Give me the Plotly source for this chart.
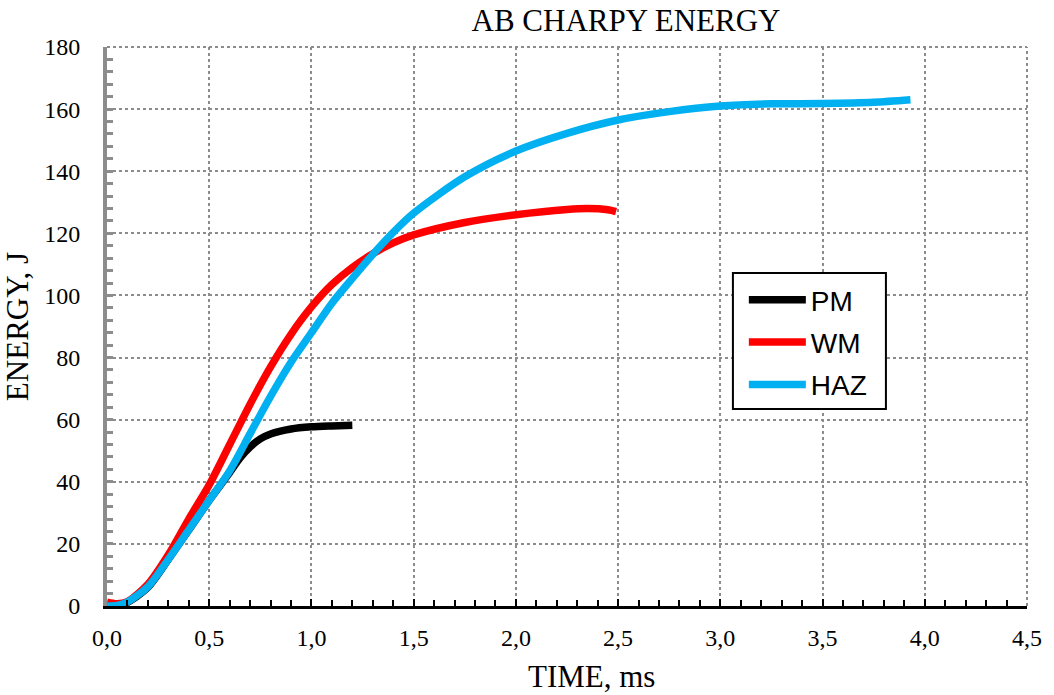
import plotly.graph_objects as go

# ---- data ----
pm_t = [0.0, 0.05, 0.1, 0.2, 0.3, 0.4, 0.5, 0.55, 0.6, 0.65, 0.7, 0.75, 0.8, 0.9, 1.0, 1.1, 1.2]
pm_e = [0.0, 0.2, 1.2, 6.0, 15.0, 24.5, 34.0, 38.5, 43.0, 47.6, 51.2, 53.8, 55.4, 57.0, 57.7, 58.0, 58.2]

wm_t = [0.0, 0.05, 0.1, 0.2, 0.3, 0.4, 0.5, 0.6, 0.7, 0.8, 0.9, 1.0, 1.1, 1.2, 1.3, 1.4, 1.5, 1.75, 2.0, 2.25, 2.35, 2.45, 2.49]
wm_e = [1.2, 0.7, 1.4, 7.0, 16.5, 28.0, 39.0, 52.0, 65.0, 77.0, 87.5, 96.3, 103.5, 109.0, 113.4, 116.9, 119.5, 123.5, 126.0, 127.7, 128.0, 127.6, 127.0]

haz_t = [0.0, 0.05, 0.1, 0.2, 0.3, 0.4, 0.5, 0.6, 0.7, 0.8, 0.9, 1.0, 1.1, 1.2, 1.3, 1.4, 1.5, 1.75, 2.0, 2.25, 2.5, 2.75, 3.0, 3.25, 3.5, 3.75, 3.93]
haz_e = [0.0, 0.2, 1.3, 6.2, 15.0, 24.5, 34.0, 43.5, 55.5, 67.5, 78.5, 88.0, 97.5, 105.5, 113.2, 120.3, 126.5, 138.2, 146.5, 152.2, 156.5, 159.2, 161.0, 161.7, 161.8, 162.2, 163.0]

series = [("PM", pm_t, pm_e, "#000000"),
          ("WM", wm_t, wm_e, "#ff0000"),
          ("HAZ", haz_t, haz_e, "#00b0f0")]

x_range = [0, 4.5]
y_range = [0, 180]

fig = go.Figure()
for name, t, e, c in series:
    fig.add_trace(go.Scatter(x=t, y=e, name=name, mode="lines",
                             line=dict(color=c, width=7.5, shape="spline", smoothing=0.8),
                             legendgroup=name))

serif = "Liberation Serif, Times New Roman, serif"
W, H = 1054, 695
L, R, T, B = 107, 1033, 47, 606
PW, PH = R - L, B - T

def px_x(p):
    return (p - L) / PW

def px_y(p):
    return (B - p) / PH

fig.update_layout(
    width=W, height=H,
    margin=dict(l=L, r=W - R, t=T, b=H - B),
    paper_bgcolor="white", plot_bgcolor="white",
    separators=", ",
    font=dict(family=serif, size=24, color="black"),
    title=dict(text="AB CHARPY ENERGY", x=626/W, xref="container", xanchor="center",
               y=1 - 20/H, yref="container", yanchor="middle",
               font=dict(family=serif, size=31, color="black")),
    legend=dict(x=px_x(748), y=px_y(275), xanchor="left", yanchor="top",
                borderwidth=0, bgcolor="rgba(0,0,0,0)",
                font=dict(family="Liberation Sans, Arial, sans-serif", size=28, color="black"),
                tracegroupgap=3, itemwidth=57),
    showlegend=True,
)

fig.update_xaxes(
    range=x_range, dtick=0.5, tick0=0, tickformat=".1f",
    showline=True, linecolor="black", linewidth=3,
    ticks="inside", ticklen=7, tickwidth=2, tickcolor="black",
    minor=dict(dtick=0.1, ticks="inside", ticklen=6, tickwidth=2, tickcolor="black", showgrid=False),
    showgrid=True, gridcolor="#8c8c8c", griddash="dot", gridwidth=2,
    zeroline=False,
    ticklabelstandoff=8,
)
fig.update_yaxes(
    range=y_range, dtick=20, tick0=0,
    showline=True, linecolor="#8c8c8c", linewidth=4,
    ticks="inside", ticklen=6, tickwidth=3, tickcolor="#8c8c8c",
    minor=dict(dtick=4, ticks="inside", ticklen=6, tickwidth=3, tickcolor="#8c8c8c", showgrid=False),
    showgrid=True, gridcolor="#8c8c8c", griddash="dot", gridwidth=2,
    zeroline=False,
    title=dict(text="ENERGY, J", font=dict(family=serif, size=31), standoff=8),
    ticklabelstandoff=18,
)

# x-axis title placed where the reference has it
fig.add_annotation(text="TIME, ms", xref="paper", yref="paper",
                   x=px_x(595), y=px_y(676), xanchor="center", yanchor="middle",
                   showarrow=False, font=dict(family=serif, size=31, color="black"))

# legend frame
fig.add_shape(type="rect", xref="paper", yref="paper",
              x0=px_x(737), x1=px_x(891), y0=px_y(409), y1=px_y(273),
              line=dict(color="black", width=2), fillcolor="white", layer="above")

# dotted frame on top and right edges (gridline style)
fig.add_shape(type="line", xref="paper", yref="paper", x0=0, x1=1, y0=1, y1=1,
              line=dict(color="#8c8c8c", width=2, dash="dot"), layer="below")
fig.add_shape(type="line", xref="paper", yref="paper", x0=1, x1=1, y0=0, y1=1,
              line=dict(color="#8c8c8c", width=2, dash="dot"), layer="below")

fig.write_html("out.html")
